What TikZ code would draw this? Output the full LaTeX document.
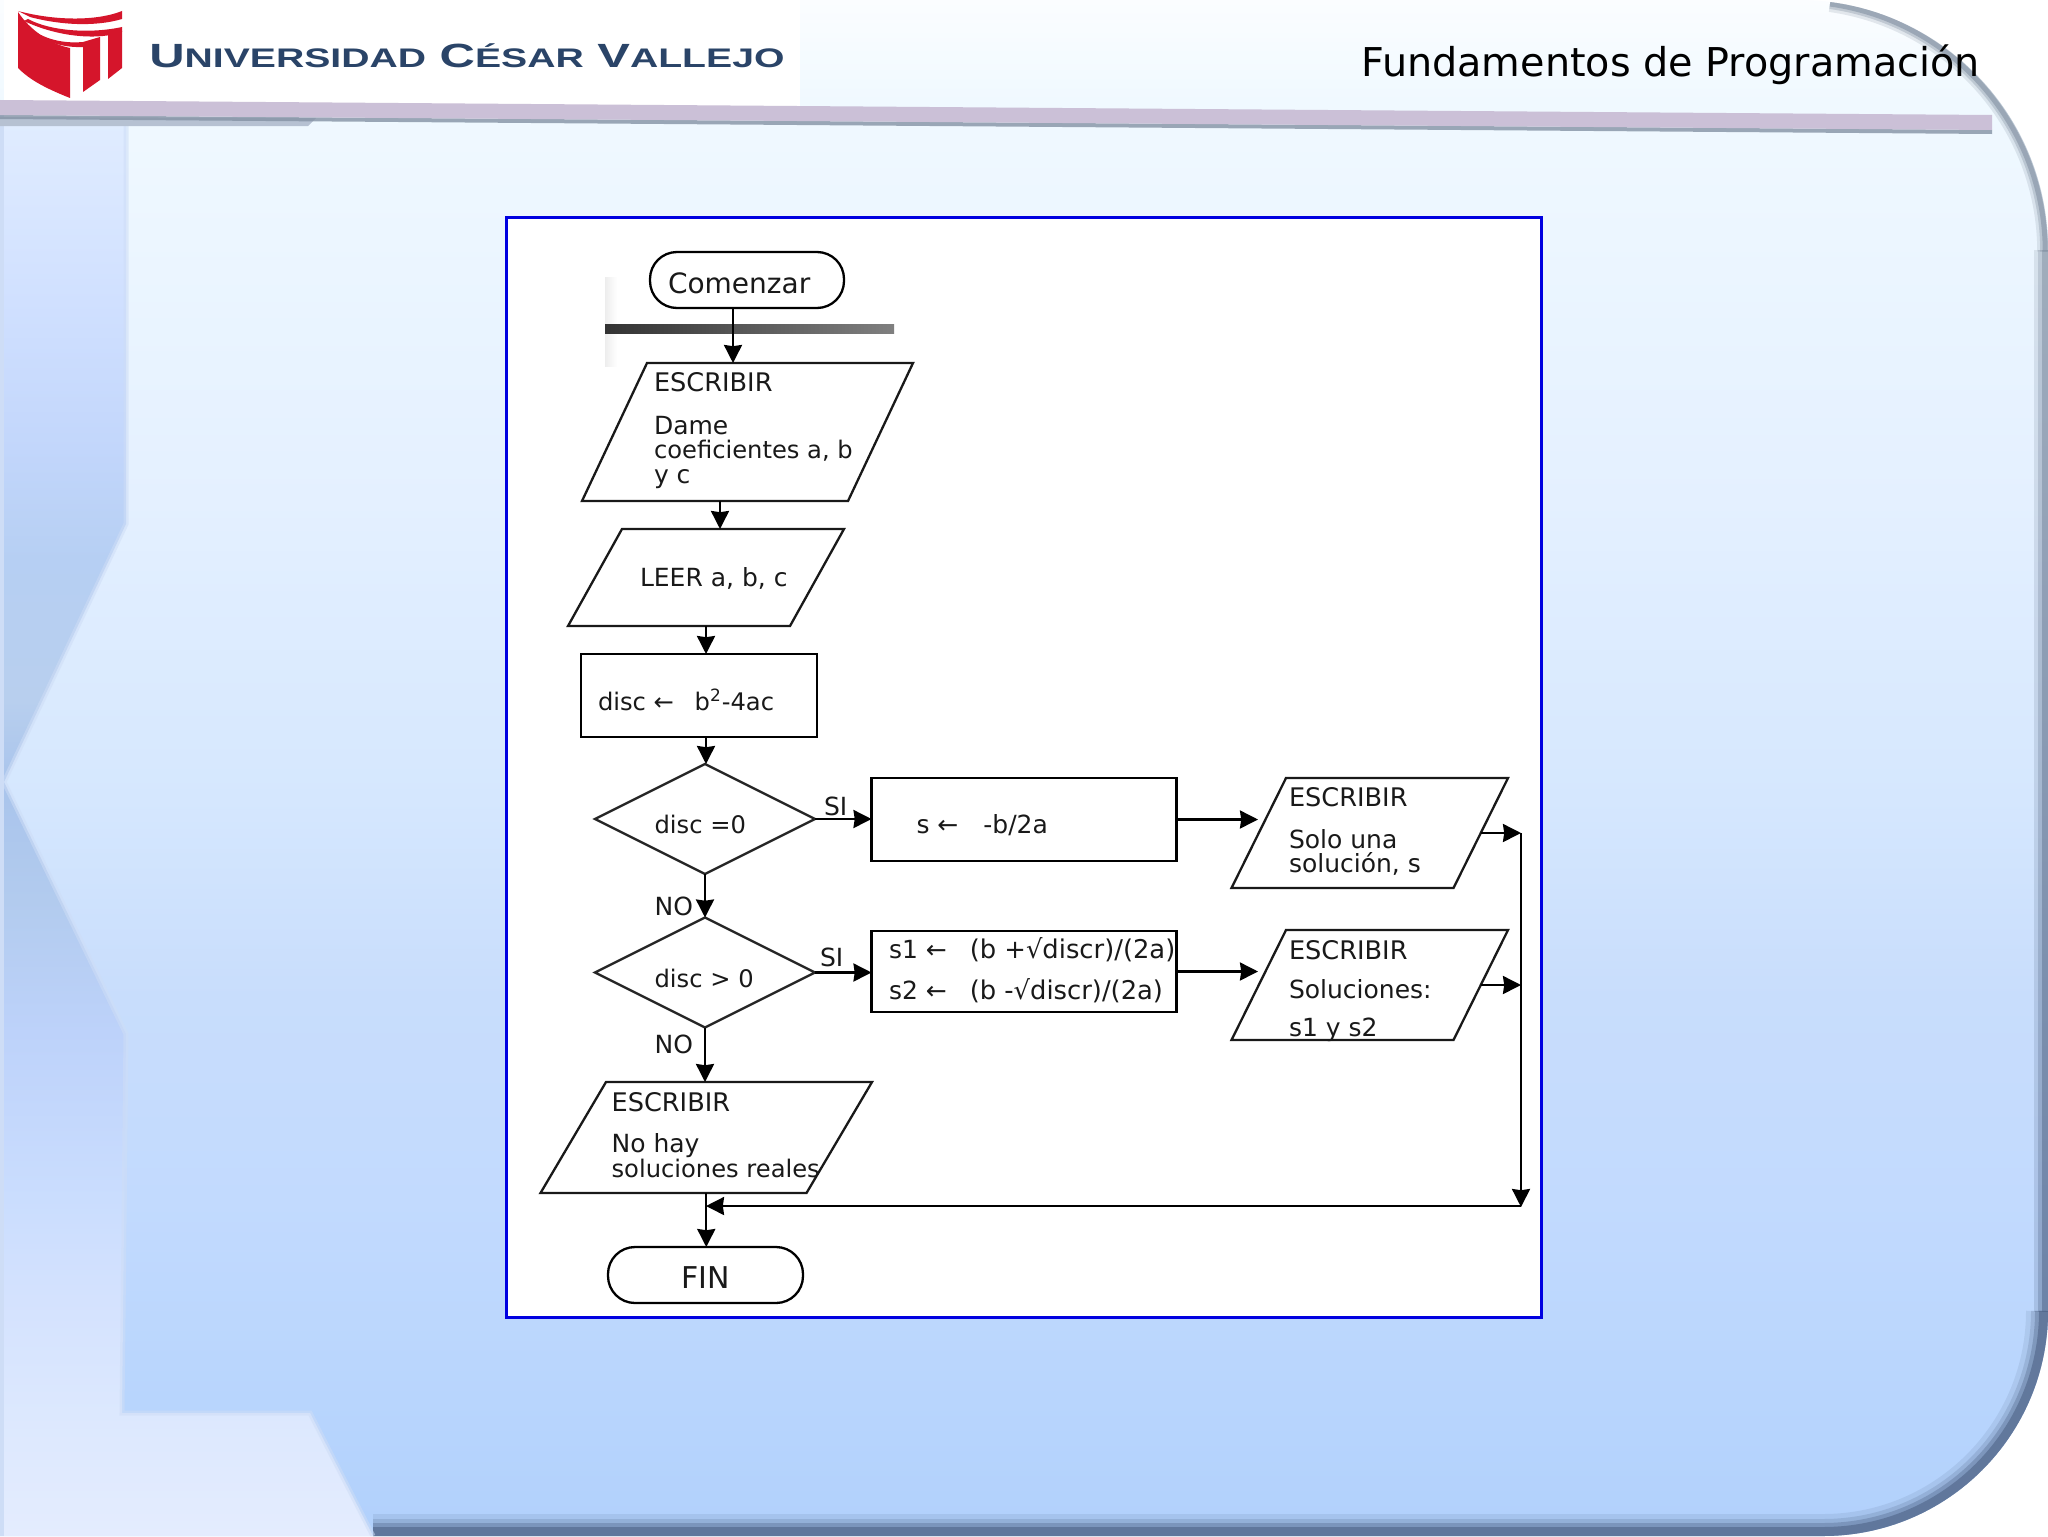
\documentclass[tikz,border=0pt]{standalone}
\usepackage{fontspec}
\usepackage{graphicx}
\setmainfont{DejaVu Sans}
\newfontfamily\logofont{Liberation Sans}
\usetikzlibrary{shapes.geometric,arrows.meta,calc}
\definecolor{edgeblue}{HTML}{4F6488}
\definecolor{edgegrey}{HTML}{8492A4}
\definecolor{barlilac}{HTML}{CBC0D7}
\definecolor{logored}{HTML}{D5152B}
\definecolor{logoblue}{HTML}{2A4468}
\definecolor{sidelight}{HTML}{CEDDF6}
\definecolor{pa}{HTML}{B2D1FC}\definecolor{pb}{HTML}{B8D5FD}\definecolor{pc}{HTML}{C2DAFE}
\definecolor{pd}{HTML}{C8DDFC}\definecolor{pe}{HTML}{D5E7FE}\definecolor{pf}{HTML}{E4F0FF}
\definecolor{pg}{HTML}{F0F9FF}\definecolor{ph}{HTML}{FBFDFF}
\definecolor{sa}{HTML}{E4ECFE}\definecolor{sb}{HTML}{DCE8FE}\definecolor{sc}{HTML}{D4E2FE}
\definecolor{sd}{HTML}{CADDFE}\definecolor{se}{HTML}{BDD2FA}\definecolor{sf}{HTML}{B2CBEE}
\definecolor{sg}{HTML}{A9C4EC}\definecolor{sh}{HTML}{B8CFEE}\definecolor{si}{HTML}{B6CFF3}
\definecolor{sj}{HTML}{C2D6FB}\definecolor{sk}{HTML}{D0E0FF}\definecolor{sl}{HTML}{E0ECFF}
\pgfdeclareverticalshading{panelshade}{100bp}{
 color(0bp)=(pa);color(25.5bp)=(pa);color(29.4bp)=(pb);
 color(35.9bp)=(pc);color(42.5bp)=(pd);
 color(49bp)=(pe);color(58.7bp)=(pf);
 color(71.7bp)=(pg);color(75bp)=(ph);color(100bp)=(ph)}
\pgfdeclareverticalshading{sideshade}{100bp}{
 color(0bp)=(sa);color(25bp)=(sa);
 color(29bp)=(sb);color(32.7bp)=(sc);
 color(36bp)=(sd);color(41.4bp)=(se);
 color(45.7bp)=(sf);color(49.5bp)=(sg);
 color(52.2bp)=(sh);color(56.8bp)=(si);
 color(60.4bp)=(sj);color(65.2bp)=(sk);
 color(71bp)=(sl);color(100bp)=(sl)}
\tikzset{
 box/.style={draw=black,line width=1.15pt,fill=white,inner sep=0pt,outer sep=0pt},
 term/.style={box,rectangle,rounded corners=13.5pt},
 proc/.style={box,rectangle},
 dec/.style={box,diamond,minimum width=110pt,minimum height=55pt,aspect=2,draw=black!85},
 frameonly/.style={rectangle,inner sep=0pt,outer sep=0pt},
 paraline/.style={draw=black!90,line width=1.15pt,fill=white,line join=miter},
 lbl/.style={anchor=base west,inner sep=0pt,outer sep=0pt,text=black!90,font=\fontsize{12.5}{15}\selectfont},
 lblcap/.style={lbl,font=\fontsize{12.8}{15}\selectfont},
 lblnarrow/.style={lbl,font=\fontsize{12.1}{15}\selectfont},
 big/.style={lbl,font=\fontsize{14}{17}\selectfont},
 arr/.style={line width=1.2pt,draw=black,-{Stealth[length=9pt,width=9pt,inset=.6pt]}},
 link/.style={line width=1.2pt,draw=black}
}
% name, centre, width px, height px, slant px
\newcommand{\paranode}[5]{%
 \node[frameonly,minimum width=#3*0.5pt,minimum height=#4*0.5pt] (#1) at (#2) {};
 \draw[paraline] (#1.south west) -- ([xshift=#5*0.5pt]#1.north west) -- (#1.north east) -- ([xshift=-#5*0.5pt]#1.south east) -- cycle;
}
\newcommand{\outerpath}{(0,0) -- (1798,0) arc[start angle=-90,end angle=0,radius=250] -- (2048,1311) arc[start angle=0,end angle=90,radius=225] -- (0,1536) -- cycle}
\begin{document}
\begin{tikzpicture}[x=0.5pt,y=-0.5pt]
\useasboundingbox (0,0) rectangle (2048,1536);
\fill[white] (0,0) rectangle (2048,1536);
% panel
\begin{scope}
 \clip \outerpath;
 \shade[shading=panelshade] (0,0) rectangle (2048,1536);
 % rim, soft edge
 \foreach \w/\o in {44/.12,34/.2,26/.35,18/.6}{
  \draw[edgeblue,line width=\w*0.5pt,opacity=\o] (2048,1311) arc[start angle=0,end angle=90,radius=225] -- (373,1536);
 }
 \foreach \w/\o in {16/.2,10/.35,5/.6}{
  \draw[edgegrey,line width=\w*0.5pt,opacity=\o] (1830,4) arc[start angle=-82,end angle=0,radius=250];
 }
 \foreach \w/\o in {14/.2,10/.3,6/.5}{
  \shade[top color=edgegrey,bottom color=edgeblue,opacity=\o] (2048-\w,250) rectangle (2048,1311);
 }
 % left sidebar
 \begin{scope}
  \clip (0,125) -- (126,125) -- (126,524) -- (4,782) -- (126,1034) -- (122,1413) -- (310,1413) -- (373,1536) -- (0,1536) -- cycle;
  \shade[shading=sideshade] (0,0) rectangle (2048,1536);
 \end{scope}
 \draw[sidelight,line width=2.5pt,opacity=.55] (126,125) -- (126,524) -- (4,782) -- (126,1034) -- (122,1413) -- (310,1413) -- (373,1536);
 \fill[sidelight] (0,115) rectangle (4,1536);
\end{scope}
% white logo plate and top bar
\fill[white] (4,0) rectangle (800,106);
\fill[sidelight!70!gray] (0,117) -- (316,118) -- (308,126) -- (0,126) -- cycle;
\fill[edgegrey,opacity=.8] (0,115) -- (1992,130) -- (1992,134) -- (0,119) -- cycle;
\fill[barlilac] (0,100) -- (1992,115) -- (1992,130) -- (0,115) -- cycle;
% logo
\fill[logored] (18,12) .. controls (30,30) and (50,44) .. (70,48) -- (70,98) .. controls (45,88) and (30,80) .. (18,68) -- cycle;
\fill[logored] (18,11) .. controls (60,22) and (100,20) .. (122,11) -- (122,19) .. controls (95,27) and (60,25) .. (30,17) -- cycle;
\fill[logored] (28,19) .. controls (50,31) and (90,34) .. (122,27) -- (122,32) .. controls (100,40) and (60,38) .. (24,21) -- cycle;
\fill[logored] (23,23) .. controls (40,38) and (60,44) .. (83,42) -- (100,37) -- (100,80) -- (83,92) -- (83,47) .. controls (60,48) and (40,40) .. (23,26) -- cycle;
\fill[logored] (108,35) -- (122,31) -- (122,68) -- (108,79) -- cycle;
\node[anchor=base west,inner sep=0pt,text=logoblue] (logotxt) at (149,68) {\resizebox{317.5pt}{12pt}{\logofont\bfseries\fontsize{20}{20}\selectfont\raisebox{0pt}[14.3pt][0pt]{U{\fontsize{16}{16}\selectfont NIVERSIDAD} C{\fontsize{16}{16}\selectfont ÉSAR} V{\fontsize{16}{16}\selectfont ALLEJO}}}};
\node[anchor=base west,inner sep=0pt,text=black,font=\fontsize{19.85}{24}\selectfont] (title) at (1361,76) {Fundamentos de Programación};
% frame
\node[rectangle,draw={rgb,255:red,0;green,0;blue,224},line width=1.5pt,fill=white,inner sep=0pt,outer sep=0pt,minimum width=517.5pt,minimum height=550pt] (frame) at (1023.5,767) {};
\fill[left color=black!7,right color=white] (605,277) rectangle (617,366);
\fill[left color=black!80,right color=black!50] (605,324) rectangle (894,333);
% column coordinates
\coordinate (c733) at (733,0);
\coordinate (c720) at (720,0);
\coordinate (c706) at (706,0);
\coordinate (tip) at (1258,0);
\coordinate (railTop) at (1521,833);
\coordinate (railBot) at (1521,1207);
\coordinate (merge) at (706,1206);
% shapes
\node[term,minimum width=97pt,minimum height=28pt] (start) at (747,280) {};
\paranode{p1}{747.5,432}{331}{138}{65}
\paranode{p2}{706,577.5}{276}{97}{54}
\node[proc,minimum width=118pt,minimum height=41.5pt] (r1) at (699,695.5) {};
\node[dec] (d1) at (705,819) {};
\node[dec] (d2) at (705,972.5) {};
\node[proc,minimum width=152.5pt,minimum height=41.5pt] (r2) at (1024,819.5) {};
\node[proc,minimum width=152.5pt,minimum height=40.5pt] (r3) at (1024,971.5) {};
\paranode{p3}{1369.75,833}{276.5}{110}{54.5}
\paranode{p4}{1369.75,985}{276.5}{110}{54.5}
\paranode{p5}{706.25,1137.5}{331.5}{111}{65.5}
\node[term,minimum width=97.5pt,minimum height=28pt] (fin) at (705.5,1275) {};
% connectors
\draw[arr] (start.south -| c733) -- (p1.north -| c733);
\draw[arr] (p1.south -| c720) -- (p2.north -| c720);
\draw[arr] (p2.south -| c706) -- (r1.north -| c706);
\draw[arr] (r1.south -| c706) -- (d1.north -| c706);
\draw[arr] (d1.south) -- (d2.north);
\draw[arr] (d2.south) -- (p5.north -| d2.south);
\draw[arr] (p5.south) -- (fin.north -| p5.south);
\draw[arr] (d1.east) -- (d1.east -| r2.west);
\draw[arr] (d2.east) -- (d2.east -| r3.west);
\draw[arr] (r2.east) -- (r2.east -| tip);
\draw[arr] (r3.east) -- (r3.east -| tip);
\draw[arr] ([xshift=-13.6pt]p3.east) -- (railTop);
\draw[arr] ([xshift=-13.6pt]p4.east) -- (p4.east -| railTop);
\draw[arr] (railTop) -- (railBot);
\draw[arr] (railBot |- merge) -- (merge);
% labels
\node[big] (tstart) at (668,293.5) {Comenzar};
\node[lblcap] (t1a) at (654,391) {ESCRIBIR};
\node[lbl] (t1b) at (654,434) {Dame};
\node[lblnarrow] (t1c) at (654,458) {coeficientes a, b};
\node[lbl] (t1d) at (654,483) {y c};
\node[lbl] (t2) at (640,586) {LEER a, b, c};
\node[lblnarrow] (t3) at (598,710) {disc ← \hspace{6.5pt}b\textsuperscript{2}-4ac};
\node[lblnarrow] (t4) at (654.6,833) {disc =0};
\node[lbl] (si1) at (824,815) {SI};
\node[lbl] (t5) at (916.5,833) {s ← \hspace{8.5pt}-b/2a};
\node[lblcap] (t6a) at (1289,806) {ESCRIBIR};
\node[lbl] (t6b) at (1289,848) {Solo una};
\node[lbl] (t6c) at (1289,872) {solución, s};
\node[lbl] (no1) at (654.6,915) {NO};
\node[lblnarrow] (t7) at (654.6,987) {disc > 0};
\node[lbl] (si2) at (820,966) {SI};
\node[lbl] (t8a) at (889,958) {s1 ← \hspace{7.5pt}{\fontsize{12.9}{15}\selectfont (b +√discr)/(2a)}};
\node[lbl] (t8b) at (889,999) {s2 ← \hspace{7.5pt}{\fontsize{12.9}{15}\selectfont (b -√discr)/(2a)}};
\node[lblcap] (t9a) at (1289,959) {ESCRIBIR};
\node[lbl] (t9b) at (1289,998) {Soluciones:};
\node[lbl] (t9c) at (1289,1036) {s1 y s2};
\node[lbl] (no2) at (654.6,1053) {NO};
\node[lblcap] (t10a) at (611.6,1111) {ESCRIBIR};
\node[lbl] (t10b) at (611.6,1152) {No hay};
\node[lblnarrow] (t10c) at (611.6,1177) {soluciones reales};
\node[big,font=\fontsize{15}{18}\selectfont] (tfin) at (681,1288) {FIN};
\end{tikzpicture}
\end{document}
